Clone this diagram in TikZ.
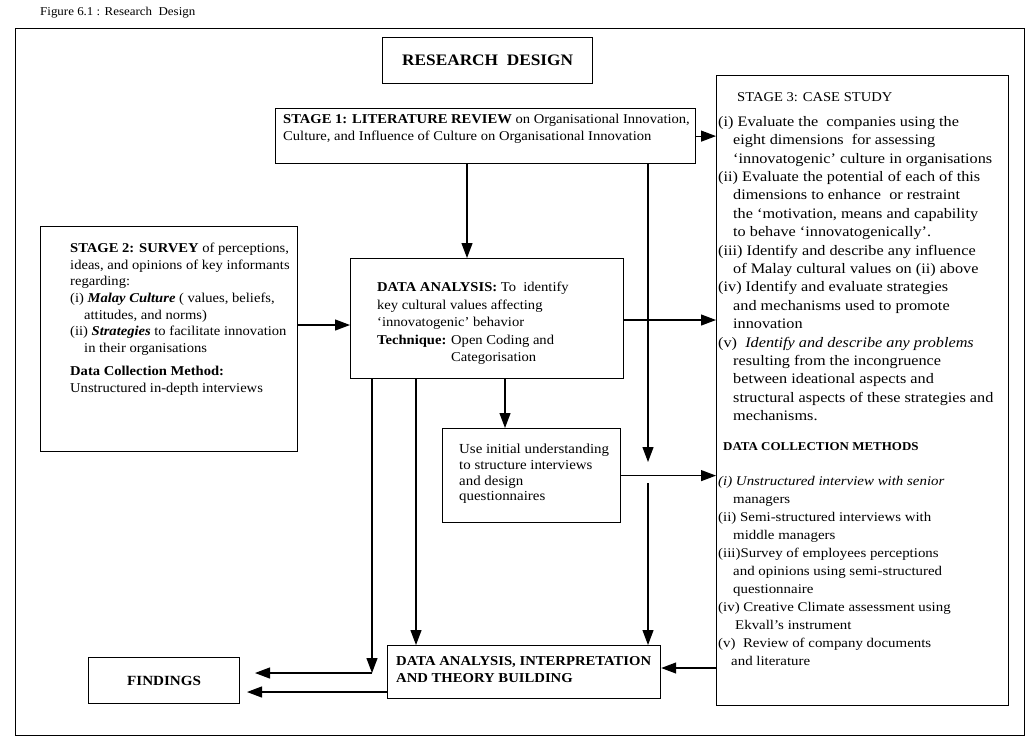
\documentclass[tikz,border=0pt]{standalone}
\usepackage{fontspec}
\setmainfont{Liberation Serif}[FakeStretch=1.08]
\newfontfamily\widefont{Liberation Serif}[FakeStretch=1.12]
\usetikzlibrary{arrows.meta}

\newcommand{\bodyfont}{\fontsize{13.5}{16.6}\selectfont}
\newcommand{\caselistfont}{\widefont\fontsize{14.5}{18.4}\selectfont}
\newcommand{\methodfont}{\widefont\fontsize{13.3}{18}\selectfont}

\tikzset{
  x=1pt, y=-1pt,
  outline/.style={draw, line width=1pt},
  panel/.style={draw, line width=1.2pt, inner sep=0pt, anchor=north west},
  txt/.style={inner sep=0pt, anchor=north west, align=left},
  flow/.style={line width=1.2pt, -{Triangle[length=15pt,width=11pt]}},
}

\begin{document}
\begin{tikzpicture}
\useasboundingbox (0,0) rectangle (1035,740);
\fill[white] (0,0) rectangle (1035,740);

% caption and outer frame
\node[txt, font=\fontsize{12}{14}\selectfont] (title) at (40,7) {Figure 6.1 : Research\ \ Design};
\draw[outline] (15,28) rectangle (1024,735);

% boxes
\node[panel, minimum width=210pt, minimum height=46pt] (rd) at (382,37) {};
\node[panel, minimum width=420pt, minimum height=55pt] (s1) at (275,108) {};
\node[panel, minimum width=292pt, minimum height=630pt] (s3) at (716,75) {};
\node[panel, minimum width=257pt, minimum height=225pt] (s2) at (40,226) {};
\node[panel, minimum width=273pt, minimum height=120pt] (da) at (350,258) {};
\node[panel, minimum width=178pt, minimum height=94pt] (ui) at (442,428) {};
\node[panel, minimum width=273pt, minimum height=53pt] (di) at (387,645) {};
\node[panel, minimum width=151pt, minimum height=46pt] (fi) at (88,657) {};

% box texts
\node[font=\fontsize{16}{19}\selectfont\bfseries, inner sep=0pt] (rdt) at (rd.center) {RESEARCH\ \ DESIGN};

\node[txt, font=\bodyfont] (s1t) at (283,114) {%
\textbf{STAGE 1: LITERATURE REVIEW} on Organisational Innovation,\\
Culture, and Influence of Culture on Organisational Innovation};

\node[txt, font=\bodyfont] (s2t) at (70,243) {%
\textbf{STAGE 2: SURVEY} of perceptions,\\
ideas, and opinions of key informants\\
regarding:\\
(i) \textbf{\textit{Malay Culture}} ( values, beliefs,\\
\hspace*{14pt}attitudes, and norms)\\
(ii) \textbf{\textit{Strategies}} to facilitate innovation\\
\hspace*{14pt}in their organisations\\[7pt]
\textbf{Data Collection Method:}\\
Unstructured in-depth interviews};

\node[txt, font=\fontsize{13.5}{17.5}\selectfont] (dat) at (377,282) {%
\textbf{DATA ANALYSIS:} To\ \ identify\\
key cultural values affecting\\
‘innovatogenic’ behavior\\
\textbf{Technique:} Open Coding and\\
\phantom{\textbf{Technique:} }Categorisation};

\node[txt, font=\fontsize{13.8}{15.7}\selectfont] (uit) at (459,444) {%
Use initial understanding\\
to structure interviews\\
and design\\
questionnaires};

\node[txt, font=\bodyfont] (s3h) at (737,92) {STAGE 3: CASE STUDY};

\node[txt, font=\caselistfont] (s3l) at (718,116) {%
(i) Evaluate the\ \ companies using the\\
\hspace*{15pt}eight dimensions\ \ for assessing\\
\hspace*{15pt}‘innovatogenic’ culture in organisations\\
(ii) Evaluate the potential of each of this\\
\hspace*{15pt}dimensions to enhance\ \ or restraint\\
\hspace*{15pt}the ‘motivation, means and capability\\
\hspace*{15pt}to behave ‘innovatogenically’.\\
(iii) Identify and describe any influence\\
\hspace*{15pt}of Malay cultural values on (ii) above\\
(iv) Identify and evaluate strategies\\
\hspace*{15pt}and mechanisms used to promote\\
\hspace*{15pt}innovation\\
(v)\ \ \textit{Identify and describe any problems}\\
\hspace*{15pt}resulting from the incongruence\\
\hspace*{15pt}between ideational aspects and\\
\hspace*{15pt}structural aspects of these strategies and\\
\hspace*{15pt}mechanisms.};

\node[txt, font=\fontsize{12}{14}\selectfont\bfseries] (dcm) at (723,442) {DATA COLLECTION METHODS};

\node[txt, font=\methodfont] (dcml) at (718,476) {%
\textit{(i) Unstructured interview with senior}\\
\hspace*{15pt}managers\\
(ii) Semi-structured interviews with\\
\hspace*{15pt}middle managers\\
(iii)Survey of employees perceptions\\
\hspace*{15pt}and opinions using semi-structured\\
\hspace*{15pt}questionnaire\\
(iv) Creative Climate assessment using\\
\hspace*{17pt}Ekvall’s instrument\\
(v)\ \ Review of company documents\\
\hspace*{13pt}and literature};

\node[txt, font=\fontsize{13.6}{17}\selectfont\bfseries] (dit) at (396,656) {%
DATA ANALYSIS, INTERPRETATION\\
AND THEORY BUILDING};

\node[font=\fontsize{14}{16}\selectfont\bfseries, inner sep=0pt] (fit) at (fi.center) {FINDINGS};

% helper points for the connector rows and columns
\coordinate (yA) at (0,325);
\coordinate (yB) at (0,320);
\coordinate (yC) at (0,668);
\coordinate (xL) at (467,0);
\coordinate (xR) at (648,0);
\coordinate (jR1) at (648,462);
\coordinate (jR2) at (648,483);
\coordinate (xU) at (505,0);
\coordinate (xD) at (416,0);
\coordinate (xF) at (372,0);
\coordinate (cF) at (372,673);
\coordinate (tF1) at (255,673);
\coordinate (tF2) at (247,692);

% connectors
\draw[flow] (s1.east) -- (s1.east -| s3.west);
\draw[flow] (s1.south -| xL) -- (da.north -| xL);
\draw[flow] (s1.south -| xR) -- (jR1);
\draw[flow] (jR2) -- (di.north -| xR);
\draw[flow] (s2.east |- yA) -- (da.west |- yA);
\draw[flow] (da.east |- yB) -- (s3.west |- yB);
\draw[flow] (da.south -| xU) -- (ui.north -| xU);
\draw[flow] (ui.east) -- (ui.east -| s3.west);
\draw[flow] (da.south -| xD) -- (di.north -| xD);
\draw[flow] (da.south -| xF) -- (cF);
\draw[flow] (cF) -- (tF1);
\draw[flow] (di.west |- tF2) -- (tF2);
\draw[flow] (s3.west |- yC) -- (di.east |- yC);
\end{tikzpicture}
\end{document}
